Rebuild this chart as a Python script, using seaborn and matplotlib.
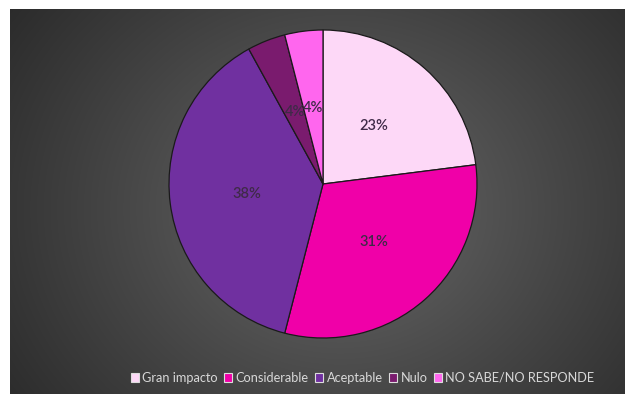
import numpy as np
import matplotlib
matplotlib.use("Agg")
import matplotlib.pyplot as plt
import seaborn as sns
from matplotlib.patches import Patch

categories = ["Gran impacto", "Considerable", "Aceptable", "Nulo", "NO SABE/NO RESPONDE"]
values = [23, 31, 38, 4, 4]
colors = ["#FDD8F7", "#F000A8", "#7030A0", "#7A1B6E", "#FF66EE"]

sns.set_style("white")
plt.rcParams["font.family"] = ["Lato", "DejaVu Sans"]

W, H = 625, 394
fig = plt.figure(figsize=(W / 100, H / 100), dpi=100)
fig.patch.set_facecolor("white")

# dark radial-gradient panel
bg = fig.add_axes([10 / W, 0, (W - 10) / W, (H - 9) / H])
bg.set_axis_off()
pw, ph = W - 10, H - 9
yy, xx = np.mgrid[0:ph, 0:pw]
cx, cy = 330, 200
d = np.sqrt((xx - cx) ** 2 + ((yy - cy) * 1.15) ** 2) / 420
d = np.clip(d, 0, 1)
lum = 0x6c + (0x29 - 0x6c) * d ** 0.9
img = np.dstack([lum, lum, lum]) / 255.0
bg.imshow(img, aspect="auto", extent=[0, 1, 0, 1], interpolation="bilinear")

# pie
r = 154
pcx, pcy = 323, H - 184
ax = fig.add_axes([(pcx - r) / W, (pcy - r) / H, 2 * r / W, 2 * r / H])
ax.set_axis_off()
wedges, texts, autotexts = ax.pie(
    values,
    colors=colors,
    startangle=90,
    counterclock=False,
    autopct=lambda p: f"{p:.0f}%",
    pctdistance=0.5,
    wedgeprops=dict(edgecolor="#1a1a1a", linewidth=0.9),
    textprops=dict(color="#3f2a48", fontsize=10.5, fontweight="semibold"),
)
ax.set_xlim(-1, 1)
ax.set_ylim(-1, 1)
ax.set_aspect("equal")

handles = [Patch(facecolor=c, edgecolor="#dddddd", linewidth=0.8) for c in colors]
leg = fig.legend(
    handles, categories,
    loc="center", bbox_to_anchor=(0.58, 16 / H),
    ncol=5, frameon=False, fontsize=9.2,
    handlelength=0.65, handleheight=0.65, handletextpad=0.25,
    columnspacing=0.5, labelcolor="#d8d8d8",
)

fig.savefig("out.png", dpi=100)
